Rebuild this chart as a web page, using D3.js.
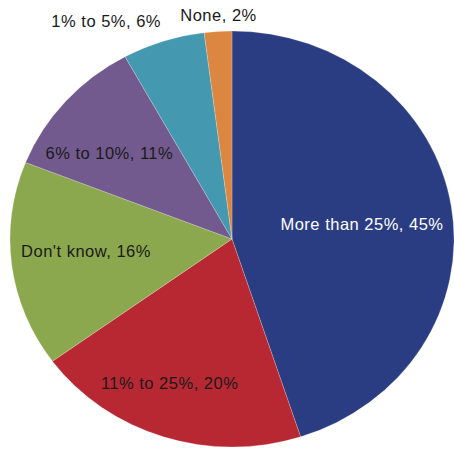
<!DOCTYPE html>
<html>
<head>
<meta charset="utf-8">
<script src="https://cdn.jsdelivr.net/npm/d3@7"></script>
<style>
  html, body { margin: 0; padding: 0; background: #ffffff; }
  svg { display: block; }
  text { font-family: "Liberation Sans", Arial, sans-serif; }
</style>
</head>
<body>
<svg id="chart" width="454" height="449"></svg>
<script>
// Survey answers, clockwise from 12 o'clock
const categories = ["More than 25%", "11% to 25%", "Don't know", "6% to 10%", "1% to 5%", "None"];
const values = [45, 20, 16, 11, 6, 2];
const colors = ["#2B3D82", "#B82833", "#8CA84E", "#725A8F", "#4498AF", "#DB8641"];
const labelColors = ["#ffffff", "#1a1a1a", "#1a1a1a", "#1a1a1a", "#1a1a1a", "#1a1a1a"];

const W = 454, H = 449;
const cx = 232, cy = 239, rx = 222, ry = 208;

const svg = d3.select("#chart");

const pie = d3.pie().sort(null).value(d => d.value);
const slices = pie(categories.map((c, i) => ({ name: c, value: values[i], i })));

const arc = d3.arc().innerRadius(0).outerRadius(ry);

// The pie is slightly wider than tall, so stretch it horizontally
const g = svg.append("g")
  .attr("transform", `translate(${cx},${cy}) scale(${rx / ry},1)`);

g.selectAll("path")
  .data(slices)
  .join("path")
  .attr("d", arc)
  .attr("fill", d => colors[d.data.i])
  .attr("stroke", "rgba(255,255,255,0.35)")
  .attr("stroke-width", 0.6);

// Inside labels: [radial factor, angle nudge in degrees]; small slices get labels above the rim
const insideLabel = [[0.59, 2], [0.75, 4], [0.66, 2.2], [0.69, -4.6]];
function labelPos(d) {
  const i = d.data.i;
  if (i < insideLabel.length) {
    const [k, nudge] = insideLabel[i];
    const a = (d.startAngle + d.endAngle) / 2 + nudge * Math.PI / 180;
    return { x: cx + Math.sin(a) * rx * k, y: cy - Math.cos(a) * ry * k, anchor: "middle" };
  }
  if (i === 4) return { x: 161, y: 21, anchor: "end" };
  return { x: 218.5, y: 15.5, anchor: "middle" };
}

svg.append("g")
  .selectAll("text")
  .data(slices)
  .join("text")
  .each(function (d) {
    const p = labelPos(d);
    d3.select(this)
      .attr("x", p.x)
      .attr("y", p.y)
      .attr("text-anchor", p.anchor);
  })
  .attr("dy", "0.35em")
  .attr("font-size", 16.5)
  .attr("letter-spacing", 0.5)
  .attr("fill", d => labelColors[d.data.i])
  .text(d => `${d.data.name}, ${d.data.value}%`);
</script>
</body>
</html>
